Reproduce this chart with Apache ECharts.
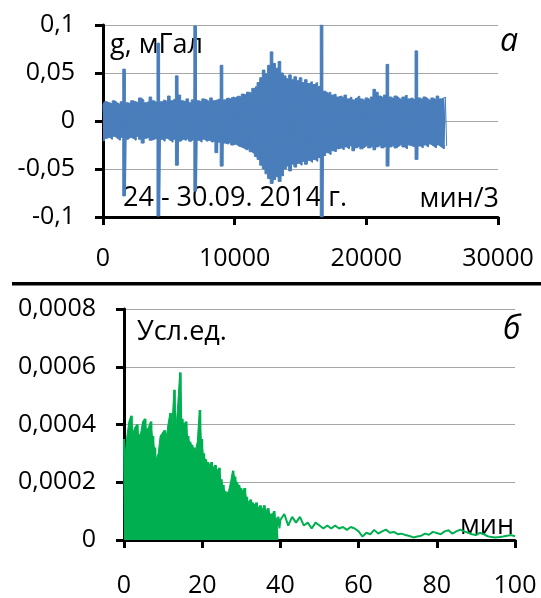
<!DOCTYPE html>
<html>
<head>
<meta charset="utf-8">
<script src="https://cdn.jsdelivr.net/npm/echarts@6/dist/echarts.min.js"></script>
<style>
  html, body { margin: 0; padding: 0; background: #fff; }
  #chart { width: 541px; height: 598px; }
</style>
</head>
<body>
<div id="chart"></div>
<script>
// ---------- Panel (а): gravity record, envelope read every 200 min/3 ----------
const gStep = 200; // min/3 between read samples
const gHigh = [
  0.017, 0.020, 0.019, 0.018, 0.021, 0.019, 0.017, 0.020, 0.054, 0.019,
  0.018, 0.021, 0.020, 0.019, 0.024, 0.022, 0.019, 0.020, 0.025, 0.021,
  0.019, 0.081, 0.020, 0.022, 0.020, 0.026, 0.021, 0.023, 0.047, 0.027,
  0.021, 0.020, 0.023, 0.019, 0.022, 0.099, 0.021, 0.020, 0.023, 0.022,
  0.020, 0.024, 0.021, 0.022, 0.023, 0.058, 0.022, 0.024, 0.023, 0.025,
  0.024, 0.026, 0.025, 0.028, 0.027, 0.030, 0.029, 0.034, 0.036, 0.040,
  0.045, 0.053, 0.049, 0.058, 0.072, 0.060, 0.055, 0.062, 0.050, 0.047,
  0.044, 0.048, 0.043, 0.046, 0.042, 0.045, 0.040, 0.043, 0.039, 0.041,
  0.038, 0.040, 0.036, 0.100, 0.031, 0.029, 0.030, 0.027, 0.028, 0.025,
  0.026, 0.024, 0.027, 0.023, 0.025, 0.022, 0.024, 0.026, 0.023, 0.021,
  0.024, 0.022, 0.025, 0.033, 0.030, 0.026, 0.024, 0.027, 0.059, 0.025,
  0.023, 0.026, 0.024, 0.022, 0.025, 0.027, 0.023, 0.024, 0.022, 0.073,
  0.024, 0.022, 0.025, 0.023, 0.021, 0.024, 0.022, 0.026, 0.023, 0.024,
  0.025
];
const gLow = [
  -0.021, -0.018, -0.017, -0.019, -0.016, -0.018, -0.020, -0.017, -0.078, -0.019,
  -0.017, -0.018, -0.020, -0.016, -0.019, -0.023, -0.018, -0.017, -0.020, -0.019,
  -0.018, -0.099, -0.019, -0.021, -0.018, -0.020, -0.022, -0.019, -0.046, -0.021,
  -0.019, -0.020, -0.018, -0.021, -0.019, -0.073, -0.020, -0.022, -0.019, -0.021,
  -0.020, -0.022, -0.021, -0.033, -0.022, -0.047, -0.023, -0.024, -0.022, -0.025,
  -0.024, -0.026, -0.027, -0.028, -0.030, -0.029, -0.032, -0.034, -0.037, -0.040,
  -0.046, -0.050, -0.055, -0.060, -0.065, -0.061, -0.058, -0.063, -0.057, -0.050,
  -0.047, -0.052, -0.045, -0.048, -0.044, -0.046, -0.042, -0.045, -0.041, -0.043,
  -0.040, -0.042, -0.038, -0.100, -0.036, -0.033, -0.035, -0.031, -0.032, -0.029,
  -0.028, -0.030, -0.027, -0.029, -0.026, -0.031, -0.028, -0.026, -0.029, -0.027,
  -0.025, -0.028, -0.026, -0.030, -0.027, -0.025, -0.028, -0.026, -0.047, -0.027,
  -0.025, -0.028, -0.026, -0.024, -0.027, -0.029, -0.025, -0.026, -0.027, -0.040,
  -0.026, -0.028, -0.025, -0.027, -0.024, -0.026, -0.028, -0.025, -0.027, -0.029,
  -0.026
];
const topXTicks = [0, 10000, 20000, 30000];
const topYTicks = [-0.1, -0.05, 0, 0.05, 0.1];

// ---------- Panel (б): spectrum ----------
const specStep = 0.5; // min, dense part 0..39.5
const specHigh = [
  3.5e-4, 2.9e-4, 3.6e-4, 4.1e-4, 4.3e-4, 3.7e-4, 3.9e-4, 4.0e-4, 3.6e-4, 3.7e-4,
  4.1e-4, 4.2e-4, 3.8e-4, 3.9e-4, 4.1e-4, 3.6e-4, 3.2e-4, 2.8e-4, 3.0e-4, 3.6e-4,
  3.7e-4, 3.8e-4, 3.5e-4, 4.0e-4, 4.4e-4, 3.9e-4, 5.2e-4, 3.8e-4, 4.7e-4, 5.8e-4,
  4.2e-4, 4.0e-4, 4.1e-4, 3.6e-4, 3.4e-4, 3.3e-4, 3.2e-4, 3.1e-4, 3.4e-4, 4.5e-4,
  3.5e-4, 3.0e-4, 2.8e-4, 2.7e-4, 2.6e-4, 2.7e-4, 2.5e-4, 2.6e-4, 2.4e-4, 2.5e-4,
  2.1e-4, 1.9e-4, 1.7e-4, 1.6e-4, 1.7e-4, 2.0e-4, 2.4e-4, 2.2e-4, 2.0e-4, 1.9e-4,
  1.8e-4, 1.7e-4, 1.8e-4, 1.5e-4, 1.3e-4, 1.4e-4, 1.3e-4, 1.2e-4, 1.3e-4, 1.1e-4,
  1.2e-4, 1.0e-4, 1.2e-4, 1.0e-4, 1.1e-4, 0.9e-4, 0.9e-4, 1.0e-4, 0.7e-4, 0.8e-4
];
const specLow = [
  0.0, 0.1e-4, 0.0, 0.2e-4, 0.0, 0.1e-4, 0.0, 0.1e-4, 0.0, 0.2e-4,
  0.0, 0.1e-4, 0.0, 0.1e-4, 0.0, 0.1e-4, 0.0, 0.3e-4, 0.4e-4, 0.3e-4,
  0.2e-4, 0.3e-4, 0.4e-4, 0.2e-4, 0.0, 0.3e-4, 0.4e-4, 0.3e-4, 0.5e-4, 0.3e-4,
  0.2e-4, 0.4e-4, 0.3e-4, 0.2e-4, 0.5e-4, 0.3e-4, 0.2e-4, 0.4e-4, 0.3e-4, 0.0,
  0.2e-4, 0.3e-4, 0.4e-4, 0.2e-4, 0.0, 0.3e-4, 0.2e-4, 0.4e-4, 0.3e-4, 0.1e-4,
  0.3e-4, 0.2e-4, 0.3e-4, 0.4e-4, 0.2e-4, 0.3e-4, 0.2e-4, 0.0, 0.3e-4, 0.4e-4,
  0.2e-4, 0.3e-4, 0.0, 0.3e-4, 0.2e-4, 0.4e-4, 0.3e-4, 0.2e-4, 0.4e-4, 0.3e-4,
  0.2e-4, 0.3e-4, 0.4e-4, 0.3e-4, 0.0, 0.3e-4, 0.4e-4, 0.3e-4, 0.5e-4, 0.4e-4
];
const specTailStart = 40; // min, tail read every 1 min
const specTail = [
  0.70e-4, 0.90e-4, 0.50e-4, 0.80e-4, 0.60e-4, 0.80e-4, 0.50e-4, 0.60e-4, 0.40e-4, 0.60e-4,
  0.50e-4, 0.40e-4, 0.50e-4, 0.40e-4, 0.50e-4, 0.40e-4, 0.45e-4, 0.35e-4, 0.45e-4, 0.40e-4,
  0.30e-4, 0.12e-4, 0.25e-4, 0.20e-4, 0.35e-4, 0.22e-4, 0.30e-4, 0.36e-4, 0.25e-4, 0.28e-4,
  0.20e-4, 0.22e-4, 0.17e-4, 0.14e-4, 0.09e-4, 0.12e-4, 0.15e-4, 0.22e-4, 0.18e-4, 0.28e-4,
  0.24e-4, 0.20e-4, 0.30e-4, 0.34e-4, 0.22e-4, 0.30e-4, 0.36e-4, 0.30e-4, 0.25e-4, 0.20e-4,
  0.17e-4, 0.25e-4, 0.20e-4, 0.13e-4, 0.10e-4, 0.09e-4, 0.10e-4, 0.12e-4, 0.15e-4, 0.17e-4,
  0.13e-4
];
const botXTicks = [0, 20, 40, 60, 80, 100];
const botYTicks = [0, 0.0002, 0.0004, 0.0006, 0.0008];

// ---------- build series data ----------
const topHi = gHigh.map((h, i) => [i * gStep, h]);
const topLo = gLow.map((l, i) => [i * gStep, l]);
const topZig = [];
gHigh.forEach((h, i) => {
  topZig.push([i * gStep, h]);
  topZig.push([i * gStep + gStep / 2, gLow[i]]);
});

const specHi = specHigh.map((h, i) => [i * specStep, h]);
const specZig = [];
specHigh.forEach((h, i) => {
  specZig.push([i * specStep, h]);
  specZig.push([i * specStep + specStep / 2, specLow[i]]);
});
specTail.forEach((v, i) => specZig.push([specTailStart + i, v]));

const BLUE = '#4a7ebb';
const GREEN = '#00b050';
const FONT = '"Open Sans", "Liberation Sans", sans-serif';
const fmt = v => String(v).replace('.', ',');
const labelStyle = { color: '#000', fontSize: 25, fontFamily: FONT };
const axisLineStyle = { show: true, lineStyle: { color: '#000', width: 3 } };
const tickStyle = { show: true, inside: false, length: 8, lineStyle: { color: '#000', width: 3 } };
const gridLine = { show: true, lineStyle: { color: '#a6a6a6', width: 1 } };
const areaBase = { type: 'line', showSymbol: false, symbol: 'none', silent: true, step: 'middle', z: 1 };
const ANNO = '27px ' + FONT;

const chart = echarts.init(document.getElementById('chart'), null, { renderer: 'canvas' });
chart.setOption({
  animation: false,
  backgroundColor: '#fff',
  grid: [
    { left: 103, top: 25, width: 395, height: 192 },
    { left: 124, top: 309, width: 391, height: 238 }
  ],
  xAxis: [
    {
      gridIndex: 0, type: 'value',
      min: topXTicks[0], max: topXTicks[topXTicks.length - 1], interval: topXTicks[1] - topXTicks[0],
      axisLine: { ...axisLineStyle, onZero: false }, axisTick: tickStyle,
      axisLabel: { ...labelStyle, margin: 29, formatter: v => String(v) },
      splitLine: { show: false }
    },
    {
      gridIndex: 1, type: 'value',
      min: botXTicks[0], max: botXTicks[botXTicks.length - 1], interval: botXTicks[1] - botXTicks[0],
      axisLine: { ...axisLineStyle, onZero: false }, axisTick: tickStyle,
      axisLabel: { ...labelStyle, margin: 33, formatter: v => String(v) },
      splitLine: { show: false }
    }
  ],
  yAxis: [
    {
      gridIndex: 0, type: 'value',
      min: topYTicks[0], max: topYTicks[topYTicks.length - 1], interval: topYTicks[1] - topYTicks[0],
      axisLine: { ...axisLineStyle, onZero: false }, axisTick: tickStyle,
      axisLabel: { ...labelStyle, margin: 28, formatter: fmt },
      splitLine: gridLine
    },
    {
      gridIndex: 1, type: 'value',
      min: botYTicks[0], max: botYTicks[botYTicks.length - 1], interval: botYTicks[1] - botYTicks[0],
      axisLine: { ...axisLineStyle, onZero: false }, axisTick: tickStyle,
      axisLabel: { ...labelStyle, margin: 28, formatter: fmt },
      splitLine: gridLine
    }
  ],
  series: [
    { ...areaBase, xAxisIndex: 0, yAxisIndex: 0, data: topHi,
      lineStyle: { color: BLUE, width: 1 }, areaStyle: { color: BLUE, opacity: 1, origin: 0 } },
    { ...areaBase, xAxisIndex: 0, yAxisIndex: 0, data: topLo,
      lineStyle: { color: BLUE, width: 1 }, areaStyle: { color: BLUE, opacity: 1, origin: 0 } },
    { type: 'line', xAxisIndex: 0, yAxisIndex: 0, data: topZig,
      showSymbol: false, symbol: 'none', z: 2, silent: true,
      lineStyle: { color: BLUE, width: 1 } },
    { ...areaBase, xAxisIndex: 1, yAxisIndex: 1, data: specHi,
      lineStyle: { color: GREEN, width: 1 }, areaStyle: { color: GREEN, opacity: 1, origin: 0 } },
    { type: 'line', xAxisIndex: 1, yAxisIndex: 1, data: specZig,
      showSymbol: false, symbol: 'none', z: 2, silent: true,
      lineStyle: { color: GREEN, width: 2 } }
  ],
  graphic: [
    { type: 'rect', shape: { x: 12, y: 282, width: 529, height: 3.5 }, style: { fill: '#000' } },
    { type: 'text', style: { text: 'g, мГал', x: 110, y: 45, font: ANNO, fill: '#000', verticalAlign: 'middle' } },
    { type: 'text', style: { text: 'а', x: 500, y: 42, font: 'italic 32px ' + FONT, fill: '#000', verticalAlign: 'middle' } },
    { type: 'text', style: { text: '24 - 30.09. 2014 г.', x: 123, y: 198, font: ANNO, fill: '#000', verticalAlign: 'middle' } },
    { type: 'text', style: { text: 'мин/3', x: 499, y: 199, font: ANNO, fill: '#000', align: 'right', verticalAlign: 'middle' } },
    { type: 'text', style: { text: 'Усл.ед.', x: 137, y: 332, font: ANNO, fill: '#000', verticalAlign: 'middle' } },
    { type: 'text', style: { text: 'б', x: 503, y: 330, font: 'italic 32px ' + FONT, fill: '#000', verticalAlign: 'middle' } },
    { type: 'text', style: { text: 'мин', x: 514, y: 526, font: ANNO, fill: '#000', align: 'right', verticalAlign: 'middle' } }
  ]
});
</script>
</body>
</html>
